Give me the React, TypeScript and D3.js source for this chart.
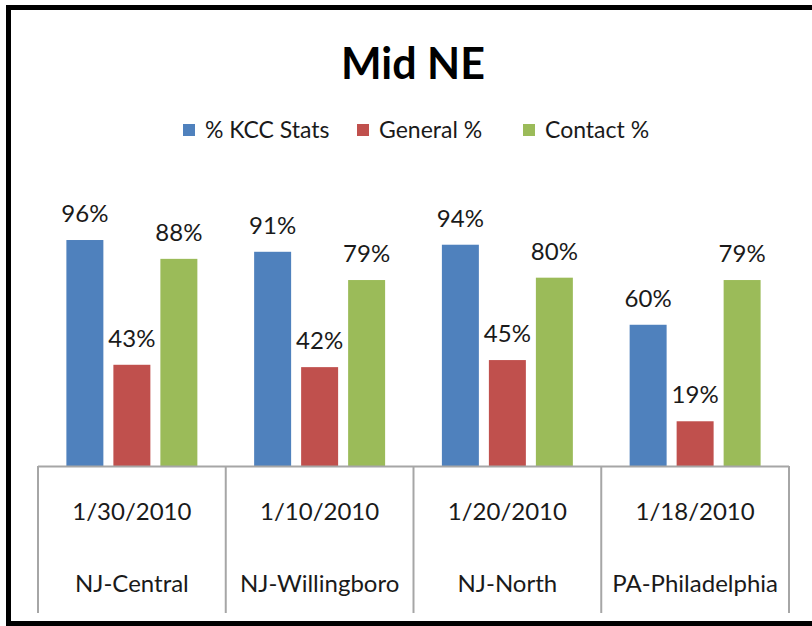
import React, { useEffect, useRef } from "react";
import * as d3 from "d3";

const regions = ["NJ-Central", "NJ-Willingboro", "NJ-North", "PA-Philadelphia"];
const dates = ["1/30/2010", "1/10/2010", "1/20/2010", "1/18/2010"];
const seriesNames = ["% KCC Stats", "General %", "Contact %"];
const seriesColors = ["#4F81BD", "#C0504D", "#9BBB59"];
const kccStats = [0.96, 0.91, 0.94, 0.6];
const generalPct = [0.43, 0.42, 0.45, 0.19];
const contactPct = [0.88, 0.79, 0.8, 0.79];

const W = 812;
const H = 626;
const FONT = "Lato, 'Open Sans', sans-serif";

const App = () => {
  const ref = useRef<SVGSVGElement>(null);

  useEffect(() => {
    const svg = d3.select(ref.current);
    svg.selectAll("*").remove();

    const left = 38;
    const right = 789;
    const baseY = 466;
    const tableBottom = 613;

    // frame (no right edge in the reference)
    svg
      .append("path")
      .attr("d", `M${W + 10},7.5 H8.5 V623.5 H${W + 10}`)
      .attr("fill", "none")
      .attr("stroke", "#000")
      .attr("stroke-width", 5);

    svg
      .append("text")
      .attr("x", 413)
      .attr("y", 79)
      .attr("text-anchor", "middle")
      .attr("font-family", FONT)
      .attr("font-weight", "bold")
      .attr("font-size", 43)
      .text("Mid NE");

    // legend
    const legendX = [183, 357, 523];
    const legend = svg
      .selectAll("g.legend")
      .data(seriesNames)
      .enter()
      .append("g")
      .attr("class", "legend")
      .attr("transform", (d, i) => `translate(${legendX[i]},124)`);
    legend
      .append("rect")
      .attr("width", 12)
      .attr("height", 12)
      .attr("fill", (d, i) => seriesColors[i]);
    legend
      .append("text")
      .attr("x", 22)
      .attr("y", 14)
      .attr("font-family", FONT)
      .attr("font-size", 23)
      .attr("fill", "#1a1a1a")
      .text((d) => d);

    const x0 = d3.scaleBand().domain(regions).range([left, right]).padding(0);
    const x1 = d3
      .scaleBand()
      .domain(seriesNames)
      .range([0, x0.bandwidth()])
      .paddingInner(0.213)
      .paddingOuter(0.604);
    const y = d3.scaleLinear().domain([0, 1]).range([baseY, baseY - 235.4]);

    const allSeries = [kccStats, generalPct, contactPct];
    const bars = regions.flatMap((r, ri) =>
      seriesNames.map((s, si) => ({ r, s, si, v: allSeries[si][ri] }))
    );

    const g = svg.append("g");
    g.selectAll("rect")
      .data(bars)
      .enter()
      .append("rect")
      .attr("x", (d) => x0(d.r) + x1(d.s))
      .attr("y", (d) => y(d.v))
      .attr("width", x1.bandwidth())
      .attr("height", (d) => baseY - y(d.v))
      .attr("fill", (d) => seriesColors[d.si]);

    g.selectAll("text")
      .data(bars)
      .enter()
      .append("text")
      .attr("x", (d) => x0(d.r) + x1(d.s) + x1.bandwidth() / 2)
      .attr("y", (d) => y(d.v) - 18)
      .attr("text-anchor", "middle")
      .attr("font-family", FONT)
      .attr("font-size", 24)
      .attr("fill", "#1a1a1a")
      .text((d) => d3.format(".0%")(d.v));

    // data-table style axis
    svg
      .append("line")
      .attr("x1", left)
      .attr("x2", right)
      .attr("y1", baseY + 0.5)
      .attr("y2", baseY + 0.5)
      .attr("stroke", "#a6a6a6")
      .attr("stroke-width", 2);
    const edges = [...regions.map((r) => x0(r)), right];
    svg
      .selectAll("line.sep")
      .data(edges)
      .enter()
      .append("line")
      .attr("class", "sep")
      .attr("x1", (d) => d)
      .attr("x2", (d) => d)
      .attr("y1", baseY)
      .attr("y2", tableBottom)
      .attr("stroke", "#a6a6a6")
      .attr("stroke-width", 2);

    svg
      .selectAll("text.date")
      .data(regions)
      .enter()
      .append("text")
      .attr("class", "date")
      .attr("x", (d) => x0(d) + x0.bandwidth() / 2)
      .attr("y", 520)
      .attr("text-anchor", "middle")
      .attr("font-family", FONT)
      .attr("font-size", 24)
      .attr("fill", "#1a1a1a")
      .text((d, i) => dates[i]);

    svg
      .selectAll("text.region")
      .data(regions)
      .enter()
      .append("text")
      .attr("class", "region")
      .attr("x", (d) => x0(d) + x0.bandwidth() / 2)
      .attr("y", 592)
      .attr("text-anchor", "middle")
      .attr("font-family", FONT)
      .attr("font-size", 24)
      .attr("fill", "#1a1a1a")
      .text((d) => d);
  }, []);

  return (
    <svg
      ref={ref}
      width={W}
      height={H}
      style={{ position: "absolute", left: 0, top: 0, background: "#fff" }}
    />
  );
};

export default App;
